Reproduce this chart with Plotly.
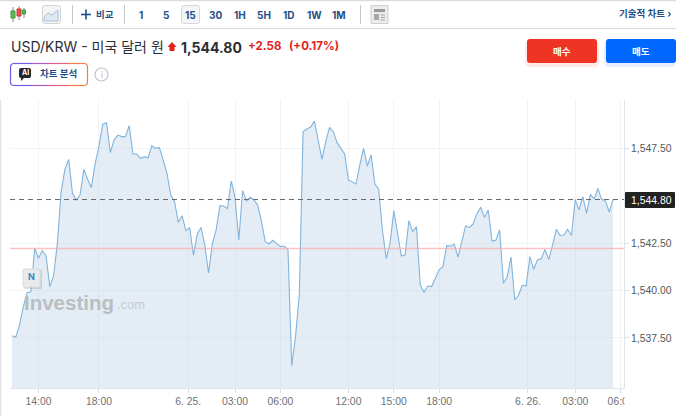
import plotly.graph_objects as go

W, H = 676, 416
prices = [
 1537.62,1537.55,1538.19,1539.15,1539.89,1539.94,1542.23,1541.70,1542.10,1541.84,
 1540.21,1540.77,1542.49,1545.22,1546.39,1546.92,1545.13,1544.78,1545.04,1546.39,
 1545.87,1545.44,1546.71,1547.59,1548.77,1548.85,1547.27,1547.94,1548.20,1548.12,
 1548.12,1548.70,1547.20,1547.20,1546.96,1547.06,1546.99,1547.64,1547.50,1547.54,
 1546.88,1546.18,1545.04,1544.69,1543.60,1543.95,1543.16,1543.32,1541.86,1542.98,
 1543.33,1542.40,1540.93,1542.49,1543.19,1544.48,1544.46,1544.32,1545.78,1544.92,
 1542.67,1545.27,1544.74,1544.92,1544.78,1544.51,1543.63,1542.58,1542.47,1542.65,
 1542.49,1542.32,1542.35,1542.17,1536.04,1537.57,1539.77,1548.38,1548.52,1548.62,
 1548.94,1547.85,
 1546.92,1547.85,1548.61,1548.38,1547.80,1547.50,1547.20,1545.83,1545.71,1545.62,
 1546.62,1547.50,1546.57,1547.15,1545.62,1545.36,1543.19,1541.68,1542.49,1544.21,
 1543.02,1541.82,1541.88,1543.69,1543.11,1543.37,1540.29,1539.91,1540.24,1540.21,
 1540.65,1541.09,1541.26,1542.37,1542.35,1542.44,1541.77,1542.67,1543.41,1543.33,
 1543.51,1544.07,
 1544.39,1543.86,1544.25,1542.61,1542.65,1543.19,1540.38,1540.73,1541.77,1539.50,
 1539.75,1540.29,1540.24,1541.79,1541.12,1541.61,1541.68,1542.17,1541.63,1542.40,
 1543.23,1542.91,1542.93,1543.23,1542.90,1544.81,1544.25,1544.95,1544.07,1545.07,
 1544.83,1545.39,1544.81,1544.72,1544.14,1544.80,
]
bar_index = list(range(len(prices)))
x_tick_bars = [7, 23, 46.6, 59, 71, 89, 101, 113, 136.5, 149, 161]
x_tick_labels = ["14:00", "18:00", "6. 25.", "03:00", "06:00", "12:00", "15:00", "18:00", "6. 26.", "03:00", "06:00"]
y_ticks = [1537.5, 1540.0, 1542.5, 1547.5]
last_price = 1544.80
prev_close = 1542.22
intervals = ["1", "5", "15", "30", "1H", "5H", "1D", "1W", "1M"]
interval_x = [141, 166, 190, 215, 240, 264, 289, 314, 339]

FONT = "Inter, 'Noto Sans CJK KR', sans-serif"
NAVY = "#1f4e86"


def px(x):
    return x / W


def py(y):
    return 1 - y / H


def rect(x0, y0, x1, y1, fill="rgba(0,0,0,0)", line=None, lw=1, r=0):
    if r:
        p = (f"M{px(x0+r)},{py(y0)} L{px(x1-r)},{py(y0)} Q{px(x1)},{py(y0)} {px(x1)},{py(y0+r)} "
             f"L{px(x1)},{py(y1-r)} Q{px(x1)},{py(y1)} {px(x1-r)},{py(y1)} "
             f"L{px(x0+r)},{py(y1)} Q{px(x0)},{py(y1)} {px(x0)},{py(y1-r)} "
             f"L{px(x0)},{py(y0+r)} Q{px(x0)},{py(y0)} {px(x0+r)},{py(y0)} Z")
        return dict(type="path", path=p, xref="paper", yref="paper", fillcolor=fill,
                    line=dict(color=line or "rgba(0,0,0,0)", width=lw if line else 0))
    return dict(type="rect", xref="paper", yref="paper", x0=px(x0), x1=px(x1), y0=py(y0), y1=py(y1),
                fillcolor=fill, line=dict(color=line or "rgba(0,0,0,0)", width=lw if line else 0))


def hline(x0, x1, y, color, w=1):
    return dict(type="line", xref="paper", yref="paper", x0=px(x0), x1=px(x1), y0=py(y), y1=py(y),
                line=dict(color=color, width=w))


def vline(x, y0, y1, color, w=1):
    return dict(type="line", xref="paper", yref="paper", x0=px(x), x1=px(x), y0=py(y0), y1=py(y1),
                line=dict(color=color, width=w))


def text(x, y, s, size, color, bold=False, anchor="left", family=FONT):
    return dict(xref="paper", yref="paper", x=px(x), y=py(y), text=f"<b>{s}</b>" if bold else s,
                showarrow=False, xanchor=anchor, yanchor="middle", borderpad=0, align="left",
                font=dict(family=family, size=size, color=color))


fig = go.Figure()
fig.add_trace(go.Scatter(x=bar_index, y=prices, mode="lines", fill="tozeroy",
                         fillcolor="rgba(176,203,226,0.34)",
                         line=dict(color="#82b4dc", width=1.1), hoverinfo="skip"))

# AI badge border: purple on the left, through pink, to orange on the right
badge_segments = [(14, 32, "#6f5ce6"), (32, 50, "#a85cc0"), (50, 68, "#e0608a"), (68, 84, "#f07f45")]

shapes = [
    # page frame
    hline(0, 676, 0.5, "#dcdcdc", 1.5),
    hline(0, 676, 28.5, "#dcdcdc", 1),
    vline(0.5, 100, 416, "#e2e2e2", 1.5),
    # toolbar separators
    vline(72.5, 5, 24, "#c8c8c8"),
    vline(124.5, 5, 24, "#c8c8c8"),
    vline(360.5, 5, 24, "#c8c8c8"),
    # candle icon
    vline(13, 7, 22, "#888888"), vline(19, 6, 20, "#888888"), vline(24, 8, 18, "#888888"),
    rect(11, 11, 15, 18, fill="#5cb85c", line="#3f9a3f"),
    rect(17, 9, 21, 16, fill="#e5534b", line="#c53a33"),
    rect(22.5, 10, 25.5, 14, fill="#5cb85c", line="#3f9a3f"),
    # area icon
    rect(42.5, 5.5, 60.5, 23.5, fill="#f2f4f6", line="#d4d4d4", r=2),
    dict(type="path", xref="paper", yref="paper", fillcolor="#dfe7f0", line=dict(color="#a9c1da", width=1),
         path=f"M{px(44)},{py(17)} L{px(48)},{py(13)} L{px(52)},{py(15)} L{px(58)},{py(10)} "
              f"L{px(58)},{py(21)} L{px(44)},{py(21)} Z"),
    # selected interval
    rect(181.5, 5.5, 199.5, 23.5, fill="#f4f5f6", line="#d8d8d8", r=2),
    # plus
    hline(81, 91, 14.5, NAVY, 1.6), vline(86, 9.5, 19.5, NAVY, 1.6),
    # news icon
    rect(371, 5.5, 388, 23.5, fill="#ececec", line="#cfcfcf"),
    rect(374, 9, 385, 12, fill="#9a9a9a"),
    rect(374, 14, 379, 20, fill="#a8a8a8"),
    hline(380.5, 385, 15, "#a8a8a8"), hline(380.5, 385, 17.5, "#a8a8a8"), hline(380.5, 385, 20, "#a8a8a8"),
    # AI badge ends
    dict(type="path", xref="paper", yref="paper", line=dict(color="#6f5ce6", width=1.2),
         path=f"M{px(14)},{py(63.5)} Q{px(10.5)},{py(63.5)} {px(10.5)},{py(67)} L{px(10.5)},{py(82)} "
              f"Q{px(10.5)},{py(85.5)} {px(14)},{py(85.5)}"),
    dict(type="path", xref="paper", yref="paper", line=dict(color="#f07f45", width=1.2),
         path=f"M{px(84)},{py(63.5)} Q{px(87.5)},{py(63.5)} {px(87.5)},{py(67)} L{px(87.5)},{py(82)} "
              f"Q{px(87.5)},{py(85.5)} {px(84)},{py(85.5)}"),
    # AI glyph speech bubble
    rect(19, 68, 31, 78, fill="#26282c", r=2),
    dict(type="path", xref="paper", yref="paper", fillcolor="#26282c", line=dict(width=0),
         path=f"M{px(21)},{py(77)} L{px(25)},{py(77)} L{px(21)},{py(81)} Z"),
    # info icon
    dict(type="circle", xref="paper", yref="paper", x0=px(95), x1=px(108), y0=py(81), y1=py(68),
         line=dict(color="#c4c4c4", width=1.2)),
    # price-rise arrow
    dict(type="path", xref="paper", yref="paper", fillcolor="#e0241b", line=dict(width=0),
         path=f"M{px(172)},{py(42)} L{px(176.5)},{py(47)} L{px(174.5)},{py(47)} L{px(174.5)},{py(51)} "
              f"L{px(169.5)},{py(51)} L{px(169.5)},{py(47)} L{px(167.5)},{py(47)} Z"),
    # buttons with soft glow
    rect(525, 41, 599, 67, fill="rgba(238,53,36,0.10)", r=5),
    rect(604, 41, 676, 67, fill="rgba(0,104,255,0.10)", r=5),
    rect(527, 39, 597, 63, fill="#ee3524", r=3),
    rect(606, 39, 676, 63, fill="#0068ff", r=3),
    # N marker
    rect(24, 270, 42, 289, fill="rgba(120,125,130,0.25)", r=1),
    rect(23, 269, 40, 287, fill="#e8eaec", line="#d8dbde", r=1),
    # reference lines
    dict(type="line", xref="paper", yref="y", x0=px(10), x1=px(624), y0=prev_close, y1=prev_close,
         line=dict(color="rgba(250,170,170,0.7)", width=1.5)),
    dict(type="line", xref="paper", yref="y", x0=px(10), x1=px(624), y0=last_price, y1=last_price,
         line=dict(color="#666666", width=1, dash="5px,4px")),
    # last price label box
    rect(625, 192, 675, 208, fill="#222222", r=1),
    # clip of the last time label at the chart edge
    rect(624.5, 389, 676, 416, fill="#ffffff"),
]
for x0, x1, col in badge_segments:
    shapes.append(hline(x0, x1, 63.5, col, 1.2))
    shapes.append(hline(x0, x1, 85.5, col, 1.2))

annotations = [
    text(10, 46.5, "USD/KRW - 미국 달러 원", 14, "#2a2e33"),
    text(180, 47, "1,544.80", 14, "#2a2e33", bold=True),
    text(247, 45.5, "+2.58", 11.5, "#e0241b", bold=True),
    text(288, 45.5, "(+0.17%)", 11.5, "#e0241b", bold=True),
    text(39, 73.5, "차트 분석", 9.5, NAVY, bold=True),
    text(25, 73, "AI", 7, "#ffffff", bold=True, anchor="center"),
    text(101.5, 74.5, "i", 9, "#b8b8b8", anchor="center"),
    text(95, 14.5, "비교", 9.5, NAVY, bold=True),
    text(645, 14, "기술적 차트 ›", 9.5, NAVY, bold=True, anchor="center"),
    text(562, 51, "매수", 9.5, "#ffffff", bold=True, anchor="center"),
    text(641, 51, "매도", 9.5, "#ffffff", bold=True, anchor="center"),
    text(31, 276.5, "N", 9, "#3a86c8", bold=True, anchor="center"),
    text(23, 302, "Investing", 20.5, "#b9bec3", bold=True, family="'Liberation Sans', sans-serif"),
    text(116, 304, ".com", 13, "#c6cbd0", family="'Liberation Sans', sans-serif"),
    text(630, 200.5, f"{last_price:,.2f}", 10.4, "#ffffff", family="'Liberation Sans', sans-serif"),
]
for lab, xp in zip(intervals, interval_x):
    annotations.append(text(xp, 14.5, lab, 10, NAVY, bold=True, anchor="center"))

fig.update_layout(
    width=W, height=H, autosize=False,
    margin=dict(l=0, r=0, t=0, b=0, pad=0),
    paper_bgcolor="#ffffff", plot_bgcolor="#ffffff",
    showlegend=False, shapes=shapes, annotations=annotations,
    font=dict(family="'Liberation Sans', sans-serif", size=10.4, color="#6e7276"),
    xaxis=dict(domain=[px(10), px(624)], range=[-0.53, 161.9], automargin=False,
               tickmode="array", tickvals=x_tick_bars, ticktext=x_tick_labels,
               showgrid=True, gridcolor="#f1f4f7", gridwidth=1, zeroline=False,
               showline=True, linecolor="#e0e6ec", linewidth=1,
               ticks="outside", ticklen=4, tickcolor="#d5dde6", tickangle=0,
               tickfont=dict(size=10.4, color="#6e7276")),
    yaxis=dict(domain=[py(388), py(100)], range=[1534.86, 1550.05], side="right", automargin=False,
               tickmode="array", tickvals=y_ticks, tickformat=",.2f",
               showgrid=True, gridcolor="#f1f4f7", gridwidth=1, zeroline=False,
               showline=True, linecolor="#dde3ea", linewidth=1,
               ticks="outside", ticklen=4, tickcolor="#d5dde6",
               tickfont=dict(size=10.4, color="#54585c")),
)

fig.write_html(
    "out.html",
    config={"displayModeBar": False, "responsive": False},
    default_width="676px",
    default_height="416px",
    post_script="document.documentElement.style.overflow='hidden';document.body.style.margin='0';document.body.style.overflow='hidden';",
)
